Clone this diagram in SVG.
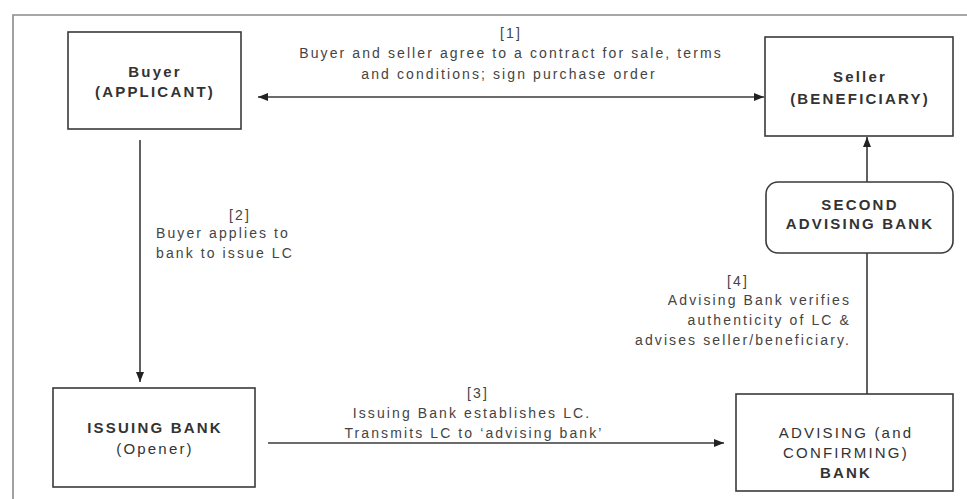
<svg xmlns="http://www.w3.org/2000/svg" width="967" height="499" viewBox="0 0 967 499">
<defs>
<style>
.box{fill:#fff;stroke:#3a3a3a;stroke-width:1.6}
.frame{fill:none;stroke:#8a8a8a;stroke-width:1.6}
.edge{fill:none;stroke:#3a3a3a;stroke-width:1.6}
.nt{font-family:"Liberation Sans",Arial,sans-serif;font-size:15px;font-weight:bold;fill:#333;text-anchor:middle;letter-spacing:2.2px}
.lt{font-family:"Liberation Sans",Arial,sans-serif;font-size:14px;fill:#444;letter-spacing:2.1px}
.m{text-anchor:middle}
.r{text-anchor:end}
.s{text-anchor:start}
</style>
<marker id="ah" viewBox="0 0 10 10" refX="10" refY="5" markerWidth="10" markerHeight="10" markerUnits="userSpaceOnUse" orient="auto-start-reverse">
<path d="M0,1 L10,5 L0,9 z" fill="#222"/>
</marker>
</defs>
<rect width="967" height="499" fill="#fff"/>
<path class="frame" d="M13,505 L13,15 L970,15"/>

<g id="connectors">
<line class="edge" x1="258" y1="97" x2="764" y2="97" marker-start="url(#ah)" marker-end="url(#ah)"/>
<line class="edge" x1="140" y1="140" x2="140" y2="382" marker-end="url(#ah)"/>
<line class="edge" x1="268" y1="443" x2="724" y2="443" marker-end="url(#ah)"/>
<line class="edge" x1="867" y1="394" x2="867" y2="253"/>
<line class="edge" x1="867" y1="182" x2="867" y2="137" marker-end="url(#ah)"/>
<g id="label1">
<text class="lt m" x="511" y="38">[1]</text>
<text class="lt m" x="511" y="58">Buyer and seller agree to a contract for sale, terms</text>
<text class="lt m" x="509" y="79">and conditions; sign purchase order</text>
</g>
<g id="label2">
<text class="lt m" x="240" y="220">[2]</text>
<text class="lt s" x="156" y="238">Buyer applies to</text>
<text class="lt s" x="156" y="258">bank to issue LC</text>
</g>
<g id="label3">
<text class="lt m" x="478" y="398">[3]</text>
<text class="lt m" x="472" y="418">Issuing Bank establishes LC.</text>
<text class="lt m" x="474" y="438">Transmits LC to ‘advising bank’</text>
</g>
<g id="label4">
<text class="lt m" x="738" y="286">[4]</text>
<text class="lt r" x="851" y="305">Advising Bank verifies</text>
<text class="lt r" x="851" y="325">authenticity of LC &amp;</text>
<text class="lt r" x="851" y="345">advises seller/beneficiary.</text>
</g>
</g>

<g id="buyer">
<rect class="box" x="68" y="32" width="173" height="97"/>
<text class="nt" x="155" y="77">Buyer</text>
<text class="nt" x="155" y="97">(APPLICANT)</text>
</g>
<g id="seller">
<rect class="box" x="765" y="37" width="188" height="99"/>
<text class="nt" x="860" y="82">Seller</text>
<text class="nt" x="860" y="104">(BENEFICIARY)</text>
</g>
<g id="second-advising-bank">
<rect class="box" x="766" y="182" width="187" height="71" rx="12" ry="12"/>
<text class="nt" x="860" y="210">SECOND</text>
<text class="nt" x="860" y="229">ADVISING BANK</text>
</g>
<g id="issuing-bank">
<rect class="box" x="53" y="388" width="202" height="99"/>
<text class="nt" x="155" y="433">ISSUING BANK</text>
<text class="nt" x="155" y="454" style="font-weight:normal">(Opener)</text>
</g>
<g id="advising-bank">
<rect class="box" x="736" y="394" width="217" height="97"/>
<text class="nt" x="846" y="438" style="font-weight:normal">ADVISING (and</text>
<text class="nt" x="846" y="458" style="font-weight:normal">CONFIRMING)</text>
<text class="nt" x="846" y="478">BANK</text>
</g>
</svg>
